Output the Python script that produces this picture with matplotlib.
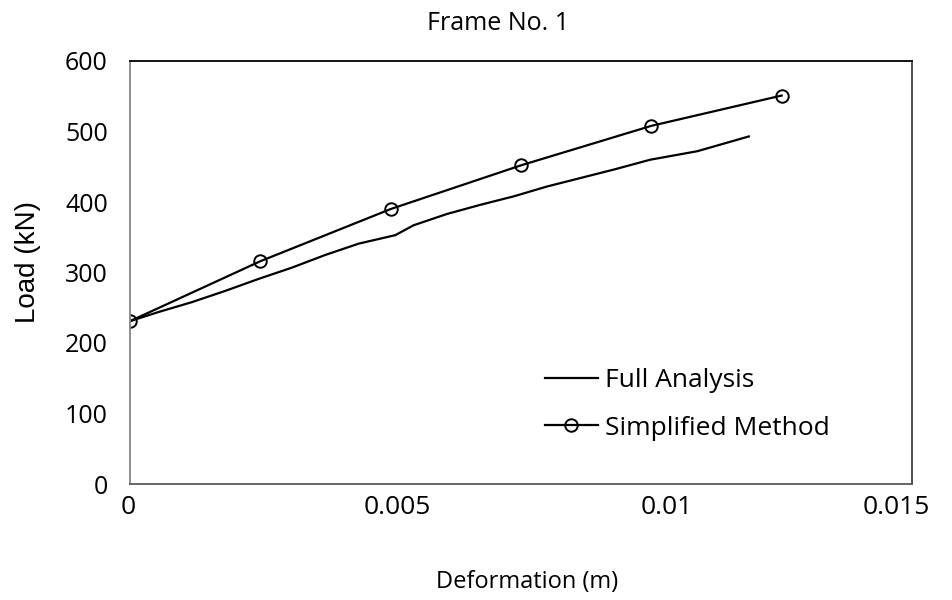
import matplotlib
matplotlib.use("Agg")
import matplotlib.pyplot as plt
from matplotlib.transforms import ScaledTranslation

# load-deformation curves for frame 1
full_def = [0.0, 0.00055, 0.00119, 0.00183, 0.00247, 0.00311, 0.00375, 0.00439,
            0.0048, 0.00509, 0.00544, 0.00608, 0.00672, 0.00736, 0.0080,
            0.00864, 0.00928, 0.00998, 0.01088, 0.01187]
full_load = [231, 244, 258, 274, 291, 307, 325, 341,
             348, 353, 367, 383, 396, 408, 422,
             434, 446, 460, 472, 493]

simp_def = [0.0, 0.0025, 0.005, 0.0075, 0.01, 0.0125]
simp_load = [231, 316, 390, 452, 508, 551]

xticks = [0, 0.005, 0.01, 0.015]
xticklabels = ["0", "0.005", "0.01", "0.015"]
yticks = [0, 100, 200, 300, 400, 500, 600]

plt.rcParams["font.family"] = ["Open Sans", "DejaVu Sans"]

fig = plt.figure(figsize=(9.53, 6), dpi=100)
ax = fig.add_axes([130/953, 116/600, 782/953, 423/600])

ax.plot(full_def, full_load, color="black", lw=1.6, label="Full Analysis")
ax.plot(simp_def, simp_load, color="black", lw=1.6, marker="o", ms=9,
        mfc="none", mec="black", mew=1.4, label="Simplified Method")

ax.set_xlim(0, 0.015)
ax.set_ylim(0, 600)
ax.set_xticks(xticks)
ax.set_xticklabels(xticklabels)
ax.set_yticks(yticks)
ax.tick_params(length=0)
ax.tick_params(axis="y", pad=16, labelsize=18)
ax.tick_params(axis="x", pad=8, labelsize=19)

# nudge the x labels sideways (points)
shifts = [-1, 5, 11, -11]
for lab, dx in zip(ax.get_xticklabels(), shifts):
    lab.set_transform(lab.get_transform() + ScaledTranslation(dx/72, 0, fig.dpi_scale_trans))

ax.spines["left"].set_color("#868686")
ax.spines["bottom"].set_color("#595959")
ax.spines["top"].set_color("black")
ax.spines["right"].set_color("#404040")
for s in ax.spines.values():
    s.set_linewidth(1.3)

fig.text(498/953, 1 - 23/600, "Frame No. 1", ha="center", va="center", fontsize=18)
fig.text(527/953, 1 - 582/600, "Deformation (m)", ha="center", va="center", fontsize=17)
fig.text(28/953, 1 - 262/600, "Load (kN)", ha="center", va="center", fontsize=20,
         rotation=90, family=["Liberation Sans", "DejaVu Sans"])

ax.legend(loc="upper left", bbox_to_anchor=(0.5, 0.33), frameon=False,
          fontsize=19, handlelength=2.0, handletextpad=0.3, labelspacing=0.85)

fig.savefig("out.png", dpi=100)
